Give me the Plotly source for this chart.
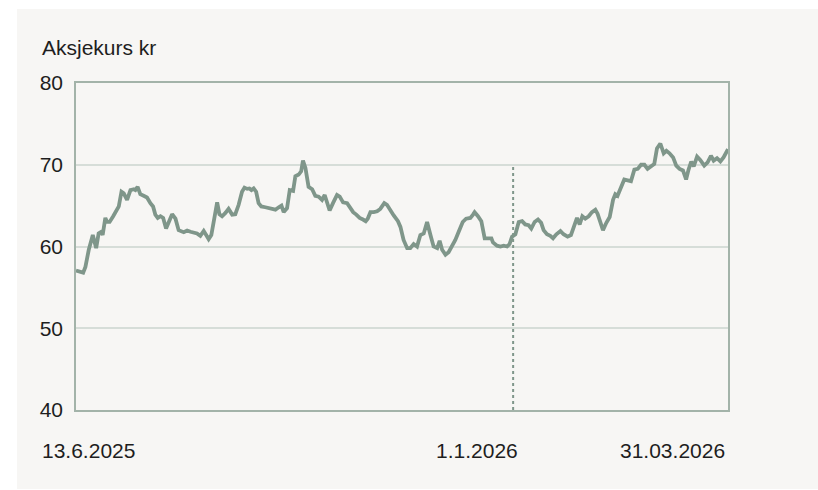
import plotly.graph_objects as go

# ---------------- data ----------------
start_date = "13.6.2025"
# day offsets from start date for each sampled price point
day_offsets = [
    0, 2.0, 3.2, 4.2, 5.7, 7.5, 9.0, 10.1, 11.3, 11.9, 13.1, 13.9, 15.0, 16.6, 18.3, 19.1,
    20.3, 21.3, 22.8, 24.3, 25.8, 26.5, 27.5, 28.7, 30.2, 31.7, 33.2, 34.4, 35.4, 36.5,
    37.7, 38.9, 40.2, 41.4, 42.9, 44.4, 45.8, 48.1, 49.6, 51.1, 52.5, 54.0, 55.5, 57.0,
    58.1, 59.2, 60.4, 61.9, 63.0, 64.0, 65.2, 66.7, 68.1, 69.7, 71.1, 72.6, 74.1, 75.2,
    76.4, 77.4, 78.3, 79.3, 80.4, 81.5, 82.7, 84.5, 86.8, 89.0, 90.5, 91.7, 92.7, 94.2,
    95.4, 96.9, 97.9, 99.4, 100.5, 101.3, 102.4, 103.8, 105.4, 106.8, 108.3, 109.8, 111.0,
    112.1, 113.2, 114.7, 116.5, 117.7, 119.2, 121.0, 122.5, 123.7, 125.1, 126.6, 128.1,
    129.3, 130.2, 131.4, 132.9, 134.4, 135.8, 137.6, 138.8, 140.3, 141.8, 143.7, 144.8,
    146.2, 147.8, 149.2, 150.7, 152.2, 153.7, 155.2, 156.7, 158.2, 159.6, 161.2, 162.3,
    163.4, 164.9, 166.3, 167.8, 169.3, 170.8, 172.6, 174.1, 176.0, 177.2, 177.9, 179.4,
    180.9, 182.4, 184.2, 185.4, 186.1, 187.9, 189.4, 190.9, 192.4, 193.5, 194.6, 196.1,
    197.6, 199.1, 200.5, 202.0, 203.2, 204.7, 206.2, 207.6, 208.7, 210.2, 211.7, 212.9,
    214.4, 216.2, 217.6, 219.4, 220.9, 222.1, 223.6, 224.8, 226.0, 227.3, 228.8, 230.3,
    231.8, 232.8, 234.0, 235.2, 236.7, 238.2, 239.7, 240.7, 241.7, 242.9, 244.7, 246.2,
    247.7, 249.2, 250.7, 252.2, 253.7, 255.1, 256.6, 258.1, 259.3, 260.8, 262.3, 263.5,
    264.9, 266.5, 267.9, 269.4, 270.9, 272.3, 273.4, 274.6, 275.7, 277.2, 278.6, 280.4,
    281.9, 283.4, 284.6, 286.1, 287.6, 289.0, 291.0,
]
prices = [
    57.05, 56.9, 56.8, 57.5, 59.6, 61.4, 59.8, 61.6, 61.8, 61.4, 63.5, 63.0, 63.0, 63.7, 64.5, 64.9,
    66.7, 66.5, 65.7, 66.9, 67.0, 66.9, 67.3, 66.4, 66.2, 66.0, 65.3, 64.9, 63.9, 63.5,
    63.7, 63.5, 62.2, 62.9, 63.95, 63.4, 62.0, 61.75, 61.95, 61.8, 61.75, 61.6, 61.3, 61.9,
    61.4, 60.9, 61.4, 63.9, 65.4, 63.95, 63.7, 64.1, 64.6, 63.9, 63.95, 65.1, 66.7, 67.2,
    67.05, 67.1, 66.9, 67.1, 66.7, 65.3, 64.9, 64.8, 64.6, 64.5, 64.8, 65.0, 64.2, 64.7,
    66.9, 66.8, 68.6, 68.8, 69.2, 70.5, 69.6, 67.3, 67.0, 66.2, 66.1, 65.7, 66.3,
    65.3, 64.4, 65.3, 66.3, 66.1, 65.4, 65.3, 64.7, 64.2, 63.9, 63.5, 63.3,
    63.1, 63.4, 64.2, 64.2, 64.3, 64.6, 65.3, 65.1, 64.4, 63.8, 63.1, 62.4,
    60.8, 59.8, 59.8, 60.3, 60.0, 61.4, 61.6, 63.0, 61.4, 60.0, 59.8, 60.7,
    59.6, 59.0, 59.3, 60.0, 60.8, 61.8, 63.0, 63.4, 63.5, 63.9, 64.2, 63.7,
    63.1, 61.0, 61.0, 61.0, 60.5, 60.1, 60.0, 60.1, 60.0, 60.3, 61.2, 61.5,
    63.0, 63.1, 62.7, 62.6, 62.2, 63.0, 63.3, 62.9, 62.0, 61.5, 61.3, 61.0,
    61.5, 61.9, 61.5, 61.2, 61.4, 62.4, 63.5, 62.7, 63.7, 63.4, 63.7, 64.2,
    64.5, 64.0, 62.9, 62.0, 62.9, 63.6, 65.7, 66.4, 66.2, 66.9, 68.2, 68.1,
    68.0, 69.4, 69.5, 70.0, 70.0, 69.5, 69.8, 70.1, 72.0, 72.6, 71.4, 71.7,
    71.4, 70.9, 69.9, 69.5, 69.3, 68.2, 69.4, 70.4, 69.8, 71.0, 70.6, 69.9,
    70.3, 71.1, 70.5, 70.8, 70.4, 70.9, 71.9,
]
divider_day = 195.1          # dotted marker labelled 1.1.2026
divider_range = [40, 70]
x_labels = ["13.6.2025", "1.1.2026", "31.03.2026"]
y_ticks = [40, 50, 60, 70, 80]
title_text = "Aksjekurs kr"

# ---------------- layout constants ----------------
W, H = 818, 490
ML, MR, MT, MB = 76, 90, 83, 80
PW, PH = W - ML - MR, H - MT - MB

def px_x(px):
    return (px - ML) / PW

def px_y(py):
    return (H - MB - py) / PH

LINE_COLOR = "#7f968a"
BG = "#f7f6f4"
TEXT = "#1e1e1e"
FONT = "Liberation Sans, Arial, sans-serif"
FS = 21

fig = go.Figure()
fig.add_trace(go.Scatter(
    x=day_offsets, y=prices, mode="lines",
    line=dict(color=LINE_COLOR, width=3.8),
    hoverinfo="skip", showlegend=False,
))

shapes = [
    dict(type="rect", xref="paper", yref="paper", layer="below",
         x0=px_x(17), x1=px_x(818), y0=px_y(489), y1=px_y(9),
         fillcolor=BG, line=dict(width=0)),
    dict(type="line", xref="x", yref="y", x0=divider_day, x1=divider_day,
         y0=divider_range[0], y1=divider_range[1],
         line=dict(color=LINE_COLOR, width=2, dash="dot")),
]

annotations = [
    dict(text=title_text, xref="paper", yref="paper", x=px_x(39.5), y=px_y(47),
         xanchor="left", yanchor="middle", showarrow=False,
         font=dict(size=FS, color=TEXT, family=FONT)),
    dict(text=x_labels[0], xref="paper", yref="paper", x=px_x(40), y=px_y(450),
         xanchor="left", yanchor="middle", showarrow=False,
         font=dict(size=FS, color=TEXT, family=FONT)),
    dict(text=x_labels[1], xref="paper", yref="paper", x=px_x(520), y=px_y(450),
         xanchor="right", yanchor="middle", showarrow=False,
         font=dict(size=FS, color=TEXT, family=FONT)),
    dict(text=x_labels[2], xref="paper", yref="paper", x=px_x(727), y=px_y(450),
         xanchor="right", yanchor="middle", showarrow=False,
         font=dict(size=FS, color=TEXT, family=FONT)),
]

fig.update_layout(
    width=W, height=H,
    margin=dict(l=ML, r=MR, t=MT, b=MB, pad=0),
    paper_bgcolor="white", plot_bgcolor="rgba(0,0,0,0)",
    shapes=shapes, annotations=annotations,
    font=dict(family=FONT, size=FS, color=TEXT),
    xaxis=dict(range=[0, 291], showgrid=False, zeroline=False, showticklabels=False,
               showline=True, mirror=True, linecolor="#a3b3a9", linewidth=1.5, fixedrange=True),
    yaxis=dict(range=[40, 80], tickvals=y_ticks, showgrid=True, gridcolor="#d6ddd8",
               gridwidth=1.5, zeroline=False, showline=True, mirror=True,
               linecolor="#a3b3a9", linewidth=1.5, ticks="outside", ticklen=7,
               tickcolor="rgba(0,0,0,0)", tickfont=dict(size=FS, color=TEXT, family=FONT),
               fixedrange=True),
)

fig.write_html("out.html", config={"displayModeBar": False},
               post_script="document.body.style.margin='0';document.body.style.overflow='hidden';")
